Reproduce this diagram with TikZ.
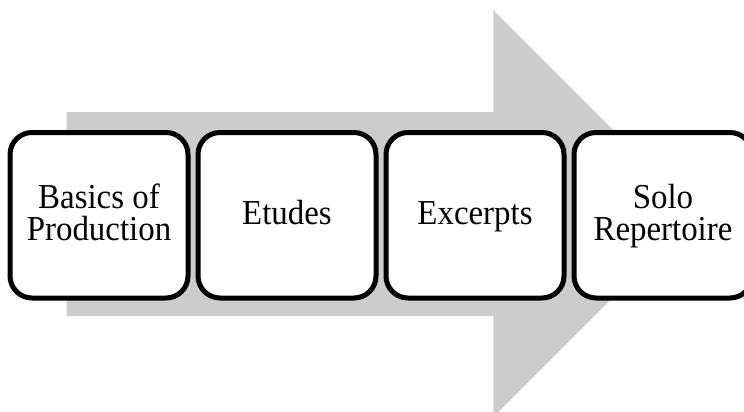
\documentclass[tikz,border=0pt]{standalone}
\usepackage{fontspec}
\setmainfont{Liberation Serif}[FakeStretch=0.94]
\begin{document}
\begin{tikzpicture}[x=1pt,y=-1pt,
  stagebox/.style={draw=black, line width=5pt, fill=white, rounded corners=22pt,
    minimum width=178pt, minimum height=165.5pt, inner sep=0pt, outer sep=0pt},
  stagetext/.style={align=center, inner sep=0pt, font=\fontsize{35}{32}\selectfont},
  bigarrow/.style={fill=gray!40, draw=none}]
\useasboundingbox (0,0) rectangle (744,412);
\clip (0,0) rectangle (744,412);
\fill[bigarrow] (66.5,112) -- (493.3,112) -- (493.3,10) -- (697,213.5) -- (493.3,417) -- (493.3,316) -- (66.5,316) -- cycle;
\node[stagebox] (b1) at (99,215.25) {};
\node[stagebox] (b2) at (287,215.25) {};
\node[stagebox] (b3) at (475,215.25) {};
\node[stagebox] (b4) at (663,215.25) {};
\node[stagetext] (t1) at ([yshift=3.2pt]b1.center) {Basics of\\Production};
\node[stagetext, anchor=base] (t2) at ([yshift=-9pt]b2.center) {Etudes};
\node[stagetext, anchor=base] (t3) at ([yshift=-9pt]b3.center) {Excerpts};
\node[stagetext] (t4) at ([yshift=-0.6pt]b4.center) {Solo\\Repertoire};
\end{tikzpicture}
\end{document}
